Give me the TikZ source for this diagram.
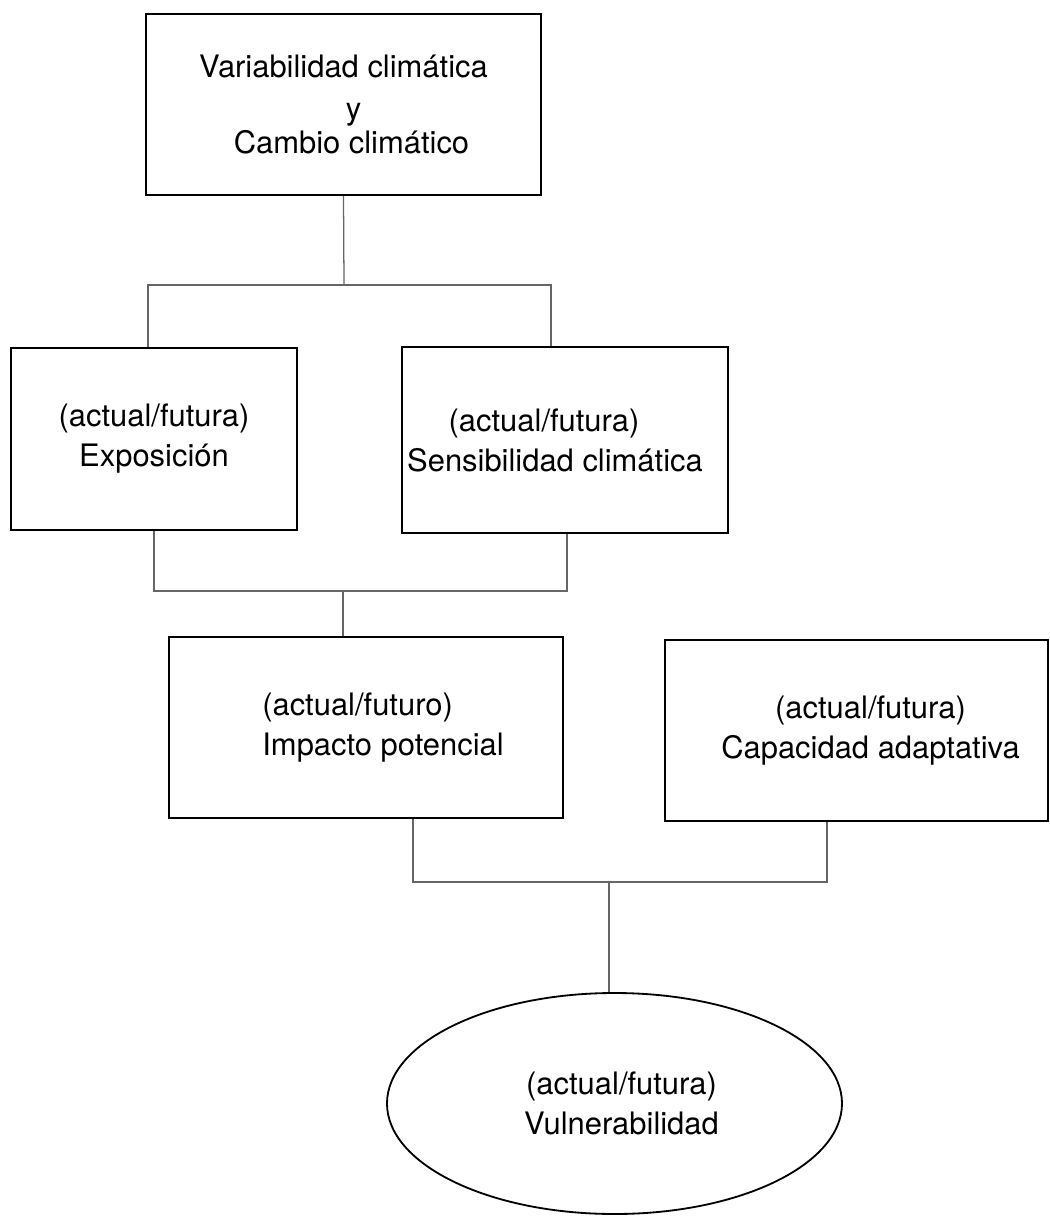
\documentclass[tikz,border=0pt]{standalone}
\usepackage{fontspec}
\setmainfont{TeX Gyre Heros}
\usetikzlibrary{shapes.geometric}

\begin{document}
\begin{tikzpicture}[
        box/.style={rectangle, draw, line width=1.6pt, align=center, inner sep=0pt,
            font=\fontsize{22pt}{28.5pt}\selectfont},
        link/.style={draw=black!60, line width=0.9pt}
    ]
        \useasboundingbox (0,0) rectangle (26.25,-30.4);

        % Nodes
        \node (clima) at (8.5875,-2.6125) [box, minimum width=9.875cm, minimum height=4.525cm]
            {Variabilidad climática\\[1pt] \hspace*{0.5cm}y\\[-4pt] \hspace*{0.4cm}Cambio climático};
        \node (expo) at (3.85,-10.975) [box, minimum width=7.15cm, minimum height=4.55cm]
            {(actual/futura)\\ Exposición};
        \node (sens) at (14.125,-11.0) [box, minimum width=8.15cm, minimum height=4.65cm]
            {(actual/futura)\hspace*{1.05cm}\\ Sensibilidad climática\hspace*{0.5cm}};
        \node (impacto) at (9.15,-18.1875) [box, align=left, minimum width=9.85cm, minimum height=4.525cm]
            {\hspace*{0.85cm}(actual/futuro)\\ \hspace*{0.85cm}Impacto potencial};
        \node (capac) at (21.4125,-18.2625) [box, minimum width=9.575cm, minimum height=4.525cm]
            {\hspace*{0.7cm}(actual/futura)\\ \hspace*{0.7cm}Capacidad adaptativa};
        \node (vuln) at (15.3625,-27.5875) [box, ellipse, line width=1.3pt, minimum width=11.375cm, minimum height=5.525cm]
            {\hspace*{0.35cm}(actual/futura)\\ \hspace*{0.35cm}Vulnerabilidad};

        % Junctions
        \coordinate (j1) at (8.6,-7.125);
        \coordinate (j2) at (8.575,-14.775);
        \coordinate (j3) at (15.225,-22.05);

        % Edges
        \draw[link] (clima.south) -- (j1);
        \draw[link] ([xshift=-0.15cm]expo.north) |- (j1) -| ([xshift=-0.35cm]sens.north);
        \draw[link] (expo.south) |- (j2) -| ([xshift=0.05cm]sens.south);
        \draw[link] (j2) -- ([xshift=-0.575cm]impacto.north);
        \draw[link] ([xshift=1.175cm]impacto.south) |- (j3) -| ([xshift=-0.7375cm]capac.south);
        \draw[link] (j3) -- (j3 |- vuln.north);
    \end{tikzpicture}
\end{document}
